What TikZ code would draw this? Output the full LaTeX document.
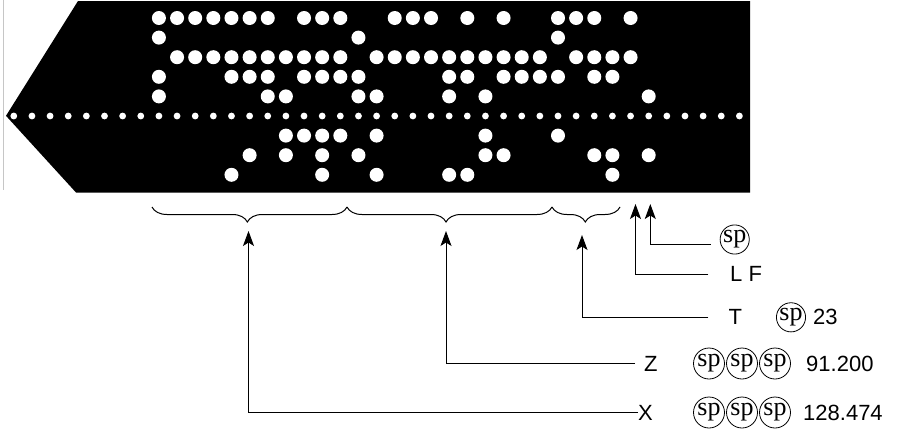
\documentclass[tikz,border=0pt]{standalone}
\usepackage{fontspec}
\setmainfont{Liberation Sans}
\newfontfamily\spfont{Liberation Serif}
\usetikzlibrary{arrows.meta,decorations.pathreplacing}
\begin{document}
\begin{tikzpicture}[x=1pt,y=-1pt,
  conn/.style={line width=1pt, -{Stealth[length=15pt,width=11pt,inset=3.5pt]}},
  bracestyle/.style={line width=1pt, decorate, decoration={brace, mirror, amplitude=15pt}},
  lbl/.style={anchor=base west, inner sep=0pt, font=\fontsize{22}{26}\selectfont},
  spc/.style={draw, circle, line width=0.8pt, inner sep=0pt, minimum size=28pt, font=\spfont\fontsize{26}{28}\selectfont},
  spcw/.style={spc, minimum size=31pt},
]
\useasboundingbox (0,0) rectangle (897,434);

% thin grey edge line at the left
\draw[gray!45, line width=0.8pt] (3.3,0) -- (3.3,190);

% tape
\fill[black] (78,1) -- (750,1) -- (750,192.5) -- (76,192.5) -- (6,115.8) -- cycle;

% sprocket holes
\foreach \i in {0,...,40} \fill[white] ({13.8+18.14*\i},116) circle (3.4);

% data holes
\foreach \y/\cols in {
  18/{8,9,10,11,12,13,14,16,17,18,21,22,23,25,27,30,31,32,34},
  37.6/{8,19,30},
  57.2/{9,10,11,12,13,14,15,16,17,18,20,21,22,23,24,25,26,27,28,29,31,32,33,34},
  76.8/{8,12,13,14,16,17,18,19,24,25,27,28,29,30,32,33},
  96.4/{8,14,15,19,20,24,26,35},
  135.6/{15,16,17,18,20,26,30},
  155.2/{13,15,17,19,26,27,32,33,35},
  174.8/{12,17,20,24,25,33}}{
  \foreach \c in \cols \fill[white] ({13.8+18.14*\c},\y) circle (7);
}

% braces
\coordinate (b0) at (152,207);
\coordinate (b1) at (347,207);
\coordinate (b2) at (552,207);
\coordinate (b3) at (620,207);
\draw[bracestyle, decoration={aspect=0.489}] (b0) -- (b1);
\draw[bracestyle, decoration={aspect=0.483}] (b1) -- (b2);
\draw[bracestyle, decoration={aspect=0.49}] (b2) -- (b3);

% labels
\node[spc] (spA) at (734.7,239.5) {sp};
\node[lbl] (lf) at (730,281) {L F};
\node[lbl] (tT) at (728.5,324.5) {T};
\node[spc] (spT) at (791,317.3) {sp};
\node[lbl] (t23) at (813,324.5) {23};
\node[lbl] (zZ) at (644,371) {Z};
\node[spcw] (spZa) at (709,363.5) {sp};
\node[spcw] (spZb) at (742,363.5) {sp};
\node[spcw] (spZc) at (775,363.5) {sp};
\node[lbl] (z91) at (806,371) {91.200};
\node[lbl] (xX) at (638,420) {X};
\node[spcw] (spXa) at (709,412.5) {sp};
\node[spcw] (spXb) at (742,412.5) {sp};
\node[spcw] (spXc) at (775,412.5) {sp};
\node[lbl] (x128) at (803,420) {128.474};

% arrow tips and line ends
\coordinate (spTip) at (650.3,204);
\coordinate (lfTip) at (635.5,204);
\coordinate (tTip) at (582,235);
\coordinate (zTip) at (446,231);
\coordinate (xTip) at (248.5,231);
\coordinate (spEnd) at (710.7,244.3);
\coordinate (lfEnd) at (708.3,274.3);
\coordinate (tEnd) at (708.3,317.3);
\coordinate (zEnd) at (635,363.5);

\draw[conn] (spEnd) -| (spTip);
\draw[conn] (lfEnd) -| (lfTip);
\draw[conn] (tEnd) -| (tTip);
\draw[conn] (zEnd) -| (zTip);
\draw[conn] (xX.west) -| (xTip);
\end{tikzpicture}
\end{document}
